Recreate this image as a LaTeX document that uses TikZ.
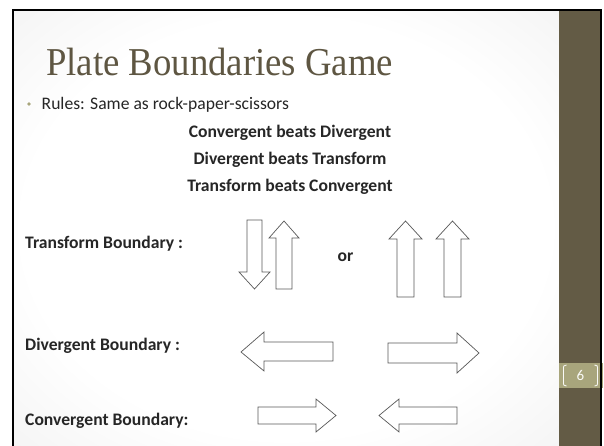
\documentclass[tikz,border=0pt]{standalone}
\usepackage{fontspec}
\setmainfont{Carlito}
\newfontfamily\titlefont[FakeStretch=0.93]{Liberation Serif}
\definecolor{sidebar}{HTML}{635B45}
\definecolor{numbox}{HTML}{A8A57C}
\definecolor{titlecol}{HTML}{5E5642}
\definecolor{bodytext}{HTML}{262626}
\definecolor{bulletcol}{HTML}{A8A57C}
\pgfdeclareradialshading{slidebg}{\pgfpoint{0bp}{0bp}}{color(0bp)=(white); color(24bp)=(white); color(50bp)=(black!9); color(71bp)=(black!16)}
\tikzset{
  plate/.style={draw=black!65, line width=0.7pt, fill=white, line join=miter},
  bodylbl/.style={font=\fontsize{17.6}{20}\selectfont\bfseries, text=bodytext, inner sep=0pt},
  rule/.style={font=\fontsize{17.6}{20}\selectfont\bfseries, text=bodytext, inner sep=0pt, anchor=base},
}
\begin{document}
\begin{tikzpicture}[x=1pt,y=-1pt]
\useasboundingbox (0,0) rectangle (604,446);
\fill[white] (0,0) rectangle (604,446);
% slide background
\shade[shading=slidebg] (13,10) rectangle (559,446);
% frame
\draw[black, line width=1.6pt] (13,446) -- (13,10) -- (601,10) -- (601,446);
% sidebar
\fill[sidebar] (559,11) rectangle (600,446);
\fill[numbox] (559,363) rectangle (603,388);
\draw[black, line width=1.6pt] (601,10) -- (601,446);
\node[text=white!94!numbox, font=\fontsize{15}{17}\selectfont, inner sep=0pt] (num) at (580.5,375.5) {6};
\draw[white!94!numbox, line width=0.8pt] (566.5,365) .. controls (563.5,365.5) and (563.5,365.5) .. (563.5,369) -- (563.5,382) .. controls (563.5,385.5) and (563.5,385.5) .. (566.5,386);
\draw[white!94!numbox, line width=0.8pt] (594.5,365) .. controls (597.5,365.5) and (597.5,365.5) .. (597.5,369) -- (597.5,382) .. controls (597.5,385.5) and (597.5,385.5) .. (594.5,386);
% title
\node[anchor=base west, inner sep=0pt, text=titlecol, font=\titlefont\fontsize{39.5}{42}\selectfont] (title) at (46,76) {Plate Boundaries Game};
% bullet
\fill[bulletcol] (29,104) circle (1.9) coordinate (bul);
\node[anchor=base west, inner sep=0pt, text=bodytext, font=\fontsize{17.6}{20}\selectfont] (rules) at (41.5,110) {Rules: Same as rock-paper-scissors};
% rules
\node[rule] (r1) at (290,137.5) {Convergent beats Divergent};
\node[rule] (r2) at (290,164.5) {Divergent beats Transform};
\node[rule] (r3) at (290,191.5) {Transform beats Convergent};
% labels
\node[bodylbl, anchor=base west] (lt) at (25,248) {Transform Boundary :};
\node[bodylbl, anchor=base west] (ld) at (25,350.5) {Divergent Boundary :};
\node[bodylbl, anchor=base west] (lc) at (25,425.5) {Convergent Boundary:};
\node[bodylbl] (or) at (345.5,257) {or};
% transform arrows
\draw[plate] (247,220) -- (262,220) -- (262,272) -- (270,272) -- (254.5,289) -- (239,272) -- (247,272) -- cycle;
\draw[plate] (284,221) -- (299,238) -- (292,238) -- (292,289) -- (276,289) -- (276,238) -- (269,238) -- cycle;
\draw[plate] (405.5,221) -- (422,239) -- (414,239) -- (414,297) -- (397,297) -- (397,239) -- (389,239) -- cycle;
\draw[plate] (452.5,221) -- (469,239) -- (461,239) -- (461,297) -- (444,297) -- (444,239) -- (436,239) -- cycle;
% divergent arrows
\draw[plate] (241,352) -- (264,332) -- (264,342) -- (333,342) -- (333,361) -- (264,361) -- (264,371) -- cycle;
\draw[plate] (479,353) -- (457,373) -- (457,363) -- (388,363) -- (388,343) -- (457,343) -- (457,333) -- cycle;
% convergent arrows
\draw[plate] (336,415.5) -- (316,432) -- (316,424) -- (258,424) -- (258,407) -- (316,407) -- (316,399) -- cycle;
\draw[plate] (379,415.5) -- (399,399) -- (399,407) -- (457,407) -- (457,424) -- (399,424) -- (399,432) -- cycle;
\end{tikzpicture}
\end{document}
